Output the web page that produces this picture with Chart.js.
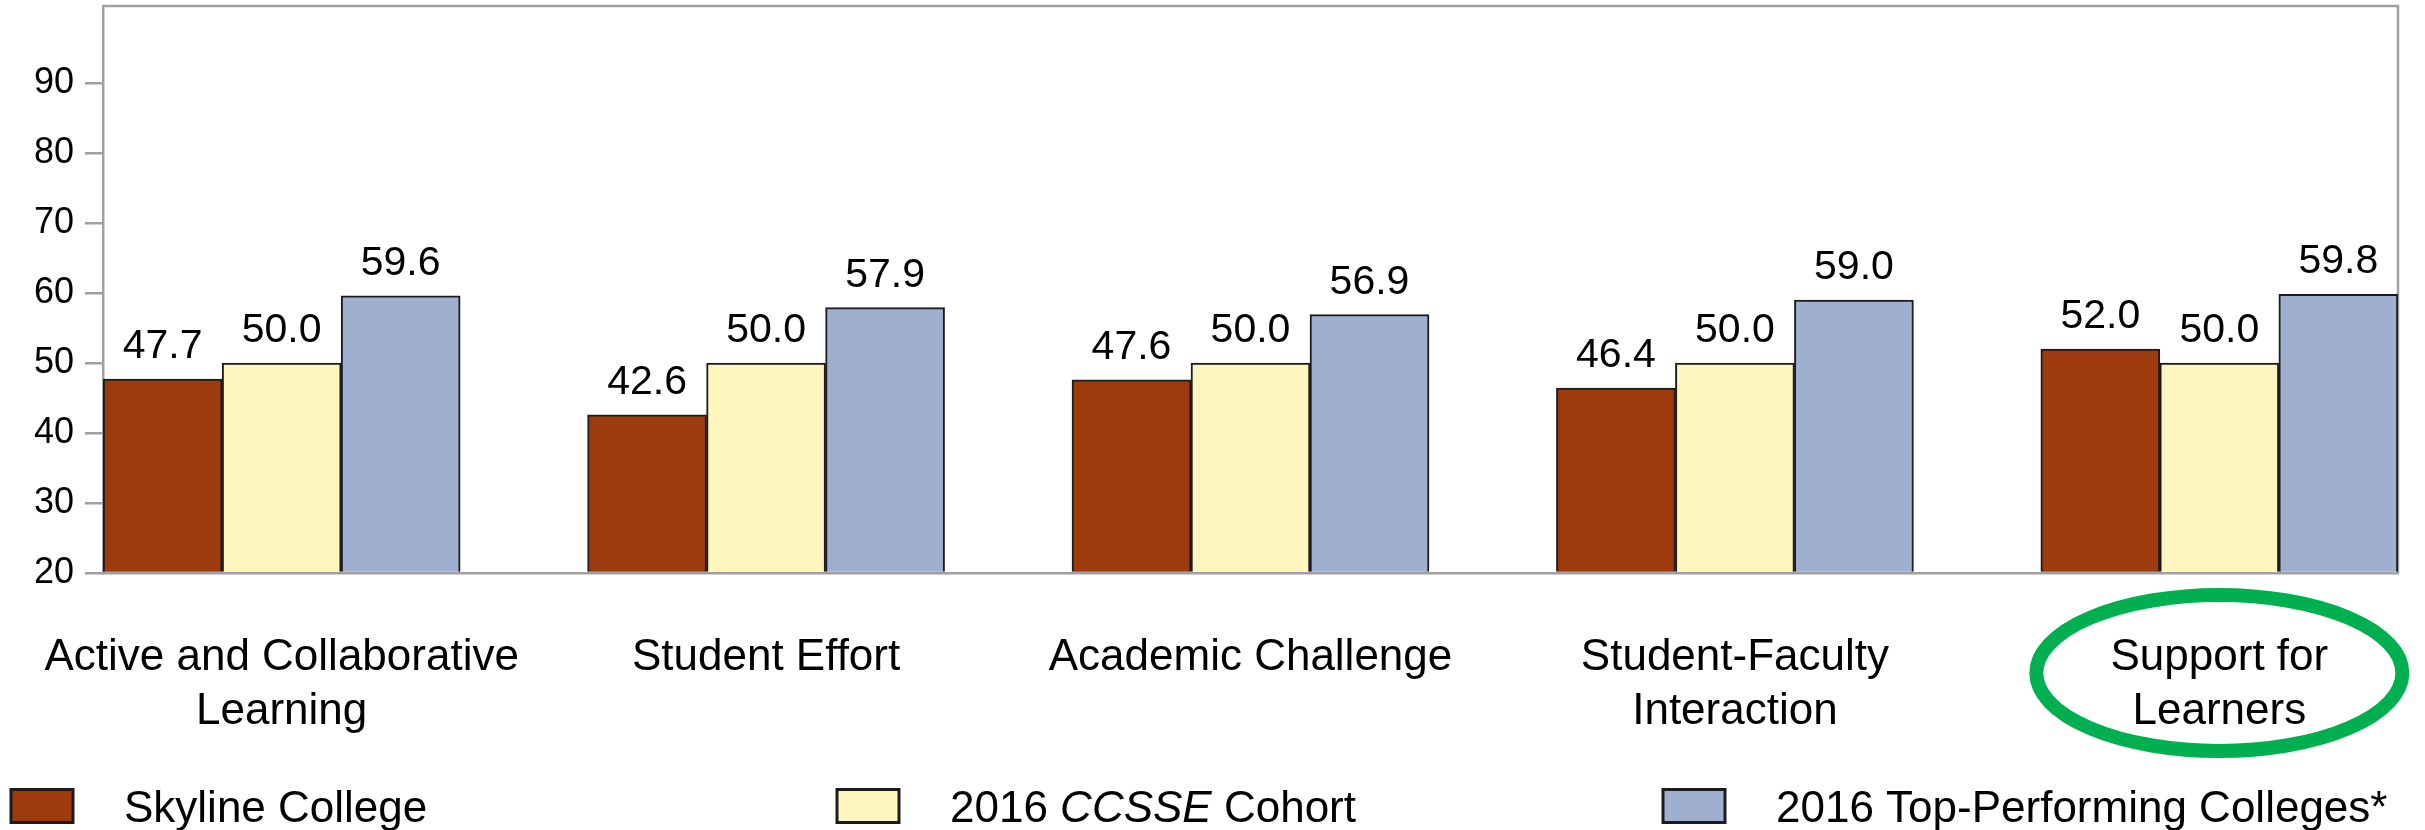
<!DOCTYPE html>
<html>
<head>
<meta charset="utf-8">
<style>
  html, body { margin: 0; padding: 0; background: #ffffff; }
  #wrap { width: 2425px; height: 830px; position: relative; }
</style>
<script src="https://cdn.jsdelivr.net/npm/chart.js@4/dist/chart.umd.min.js"></script>
</head>
<body>
<div id="wrap"><canvas id="c" width="2425" height="830"></canvas></div>
<script>
// ---- data ----
const categories = [
  ["Active and Collaborative", "Learning"],
  ["Student Effort"],
  ["Academic Challenge"],
  ["Student-Faculty", "Interaction"],
  ["Support for", "Learners"]
];
const seriesNames = ["Skyline College", "2016 CCSSE Cohort", "2016 Top-Performing Colleges*"];
const skyline   = [47.7, 42.6, 47.6, 46.4, 52.0];
const cohort    = [50.0, 50.0, 50.0, 50.0, 50.0];
const topColleges = [59.6, 57.9, 56.9, 59.0, 59.8];
const yTicks = [20, 30, 40, 50, 60, 70, 80, 90];
const highlightIndex = 4;

// ---- styles ----
const FONT = '"Liberation Sans", Arial, Helvetica, sans-serif';
const colors = ["#9d3a0e", "#fff5bf", "#9fafd0"];
const frameColor = "#a0a0a0";
const Y_MIN = 20, Y_MAX = 101;

const seriesValues = [skyline, cohort, topColleges];
const datasets = seriesValues.map((vals, s) => ({
  label: seriesNames[s],
  data: vals.map((v, i) => ({ x: i, y: v })),
  backgroundColor: colors[s],
  borderColor: "#1c1c1c",
  borderWidth: 2,
  borderSkipped: "bottom",
  base: Y_MIN,
  barThickness: 119
}));

const framePlugin = {
  id: "frame",
  beforeDatasetsDraw(chart) {
    const { ctx, chartArea: a } = chart;
    ctx.save();
    ctx.strokeStyle = frameColor;
    ctx.lineWidth = 2.5;
    ctx.beginPath();
    ctx.moveTo(a.left, a.top);
    ctx.lineTo(a.right, a.top);
    ctx.lineTo(a.right, a.bottom);
    ctx.stroke();
    ctx.restore();
  }
};

const valueLabelPlugin = {
  id: "valueLabels",
  afterDatasetsDraw(chart) {
    const { ctx } = chart;
    ctx.save();
    ctx.font = "41px " + FONT;
    ctx.fillStyle = "#000";
    ctx.textAlign = "center";
    ctx.textBaseline = "alphabetic";
    chart.data.datasets.forEach((ds, di) => {
      const meta = chart.getDatasetMeta(di);
      meta.data.forEach((bar, i) => {
        ctx.fillText(ds.data[i].y.toFixed(1), bar.x, bar.y - 21);
      });
    });
    ctx.restore();
  }
};

const legendPlugin = {
  id: "customLegend",
  afterDraw(chart) {
    const { ctx } = chart;
    const startX = 11, step = 826, boxW = 62, boxH = 33, textGap = 51;
    const cy = 806;
    ctx.save();
    ctx.textBaseline = "alphabetic";
    ctx.fillStyle = "#000";
    seriesNames.forEach((name, i) => {
      const x = startX + i * step;
      ctx.fillStyle = colors[i];
      ctx.fillRect(x, cy - boxH / 2, boxW, boxH);
      ctx.strokeStyle = "#1c1c1c";
      ctx.lineWidth = 3;
      ctx.strokeRect(x, cy - boxH / 2, boxW, boxH);
      ctx.fillStyle = "#000";
      let tx = x + boxW + textGap;
      const baseY = cy + 16;
      // italicise "CCSSE"
      const parts = name.split(/(CCSSE)/);
      parts.forEach(p => {
        if (!p) return;
        ctx.font = (p === "CCSSE" ? "italic " : "") + "44px " + FONT;
        ctx.fillText(p, tx, baseY);
        tx += ctx.measureText(p).width;
      });
    });
    ctx.restore();
  }
};

const ellipsePlugin = {
  id: "highlight",
  afterDraw(chart) {
    const { ctx, chartArea: a } = chart;
    const cx = chart.scales.x.getPixelForValue(highlightIndex);
    const cy = a.bottom + 100;
    ctx.save();
    ctx.strokeStyle = "#00b050";
    ctx.lineWidth = 14;
    ctx.beginPath();
    ctx.ellipse(cx, cy, 183, 78, 0, 0, Math.PI * 2);
    ctx.stroke();
    ctx.restore();
  }
};

new Chart(document.getElementById("c"), {
  type: "bar",
  data: { datasets },
  plugins: [framePlugin, valueLabelPlugin, legendPlugin, ellipsePlugin],
  options: {
    responsive: false,
    animation: false,
    layout: { padding: { top: 6, right: 27, left: 0, bottom: 0 } },
    plugins: { legend: { display: false }, tooltip: { enabled: false } },
    scales: {
      x: {
        type: "linear",
        offset: false,
        min: -0.3688,
        max: categories.length - 1 + 0.3688,
        grid: { display: false },
        border: { display: true, color: frameColor, width: 2.5 },
        ticks: {
          stepSize: 1,
          includeBounds: false,
          autoSkip: false,
          maxRotation: 0,
          minRotation: 0,
          padding: 50,
          color: "#000",
          font: { family: FONT, size: 44, lineHeight: 1.23 },
          callback: (v) => Number.isInteger(v) && categories[v] ? categories[v] : ""
        },
        afterFit(scale) {
          scale.height = 830 - 573;
          scale.paddingLeft = 0; scale.paddingRight = 0;
        }
      },
      y: {
        min: Y_MIN,
        max: Y_MAX,
        grid: { display: true, drawOnChartArea: false, drawTicks: true, tickLength: 18, color: frameColor, lineWidth: 2.5 },
        border: { display: true, color: frameColor, width: 2.5 },
        ticks: {
          stepSize: 10,
          padding: 11,
          color: "#000",
          font: { family: FONT, size: 36 }
        },
        afterBuildTicks(scale) {
          scale.ticks = yTicks.map(v => ({ value: v }));
        },
        afterFit(scale) {
          scale.width = 103;
          scale.paddingTop = 0; scale.paddingBottom = 0;
        }
      }
    }
  }
});
</script>
</body>
</html>
